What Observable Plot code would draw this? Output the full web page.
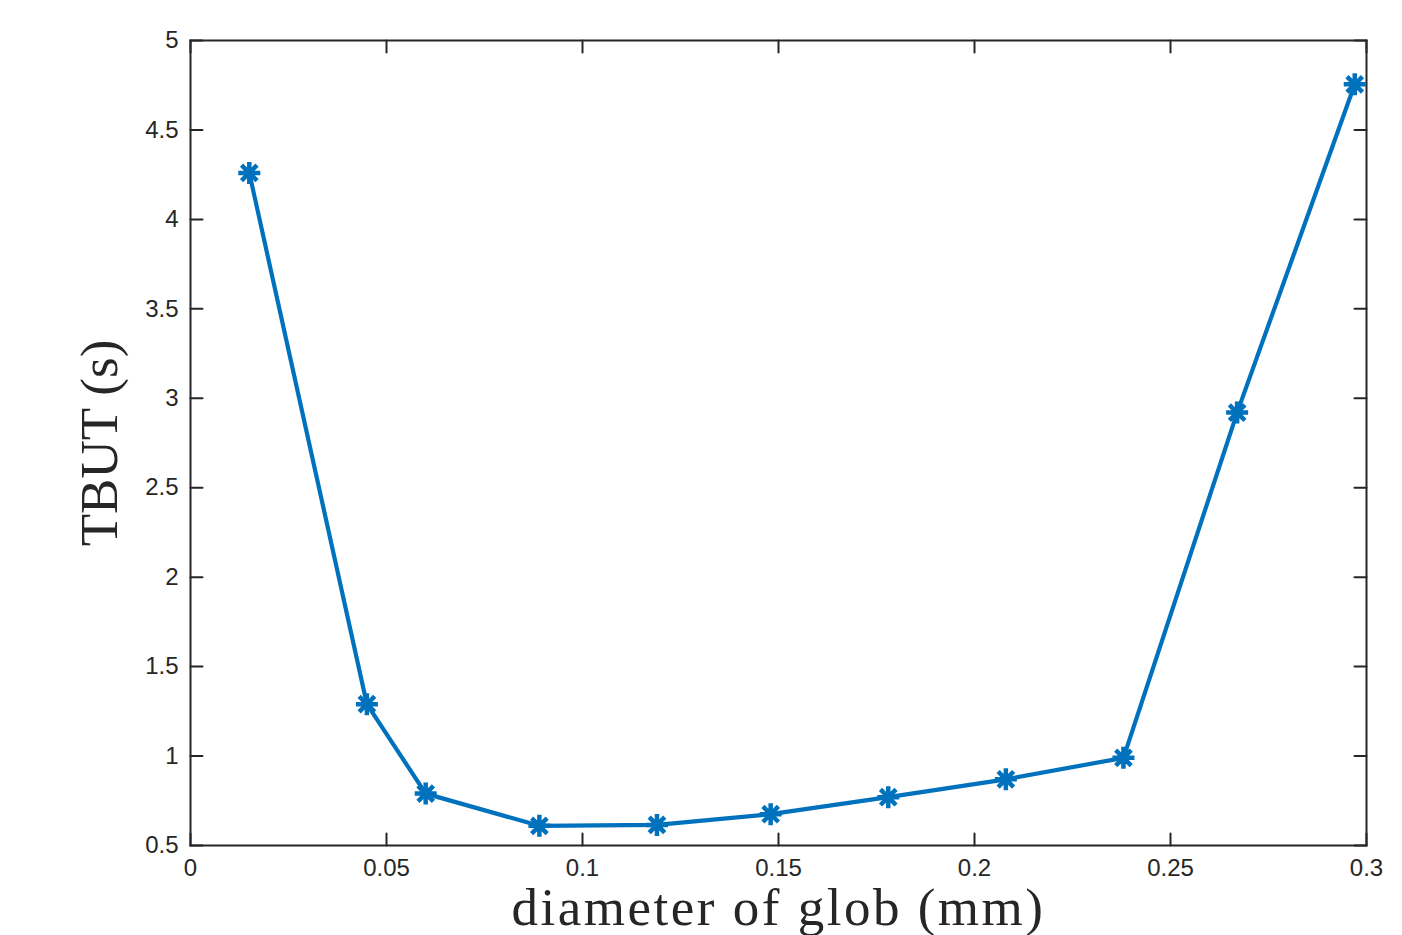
<!DOCTYPE html>
<html>
<head>
<meta charset="utf-8">
<script src="https://cdn.jsdelivr.net/npm/d3@7"></script>
<script src="https://cdn.jsdelivr.net/npm/@observablehq/plot@0.6"></script>
<style>
  html, body { margin: 0; padding: 0; background: #fff; }
  #chart { width: 1402px; height: 935px; }
</style>
</head>
<body>
<div id="chart"></div>
<script>
// Data
const diameter = [0.015, 0.045, 0.060, 0.089, 0.119, 0.148, 0.178, 0.208, 0.238, 0.267, 0.297];
const tbut     = [4.26, 1.29, 0.79, 0.61, 0.615, 0.675, 0.77, 0.87, 0.99, 2.92, 4.755];
const xTicks = [0, 0.05, 0.1, 0.15, 0.2, 0.25, 0.3];
const yTicks = [0.5, 1, 1.5, 2, 2.5, 3, 3.5, 4, 4.5, 5];
const xLabel = "diameter of glob (mm)";
const yLabel = "TBUT (s)";

const data = diameter.map((d, i) => ({x: d, y: tbut[i]}));

const axisColor = "#262626";
const lineColor = "#0072BD";

// asterisk marker: horizontal, vertical and two diagonal strokes
const asterisk = {
  draw(context, size) {
    const r = Math.sqrt(size / Math.PI);
    const d = r * Math.SQRT1_2;
    context.moveTo(-r, 0); context.lineTo(r, 0);
    context.moveTo(0, -r); context.lineTo(0, r);
    context.moveTo(-d, -d); context.lineTo(d, d);
    context.moveTo(-d, d); context.lineTo(d, -d);
  }
};

const tickOpts = {length: 12, r: 0, anchor: "start", stroke: axisColor, strokeWidth: 2};

const chart = Plot.plot({
  width: 1402,
  height: 935,
  marginLeft: 190,
  marginRight: 36,
  marginTop: 40,
  marginBottom: 90,
  style: {background: "#fff", fontFamily: "'Liberation Sans', Arial, sans-serif", fontSize: "24px"},
  x: {domain: [0, 0.3]},
  y: {domain: [0.5, 5]},
  marks: [
    Plot.axisX(xTicks, {tickSize: 0, tickPadding: 13, fontSize: 24, fill: axisColor, tickFormat: d => String(d), label: null}),
    Plot.axisY(yTicks, {tickSize: 0, tickPadding: 12, fontSize: 24, fill: axisColor, tickFormat: d => String(d), label: null}),
    // inward ticks on all four sides
    Plot.vector(xTicks, {x: d => d, y: 0.5, rotate: 0, ...tickOpts}),
    Plot.vector(xTicks, {x: d => d, y: 5, rotate: 180, ...tickOpts}),
    Plot.vector(yTicks, {x: 0, y: d => d, rotate: 90, ...tickOpts}),
    Plot.vector(yTicks, {x: 0.3, y: d => d, rotate: 270, ...tickOpts}),
    Plot.frame({stroke: axisColor, strokeWidth: 2}),
    Plot.line(data, {x: "x", y: "y", stroke: lineColor, strokeWidth: 4.2}),
    Plot.dot(data, {x: "x", y: "y", symbol: asterisk, r: 11, stroke: lineColor, strokeWidth: 4.5, fill: "none"}),
    Plot.text([xLabel], {frameAnchor: "bottom", dy: 63, text: d => d, fontSize: 53, fontFamily: "'Liberation Serif', 'Times New Roman', serif", fill: "#262626", lineAnchor: "middle", textAnchor: "middle"}),
    Plot.text([yLabel], {frameAnchor: "left", dx: -90, rotate: -90, text: d => d, fontSize: 53, fontFamily: "'Liberation Serif', 'Times New Roman', serif", fill: "#262626", lineAnchor: "middle", textAnchor: "middle"})
  ]
});

d3.select(chart).selectAll("text").filter(function() { return this.textContent === xLabel; })
  .style("letter-spacing", "2.5px");

document.getElementById("chart").appendChild(chart);
</script>
</body>
</html>
